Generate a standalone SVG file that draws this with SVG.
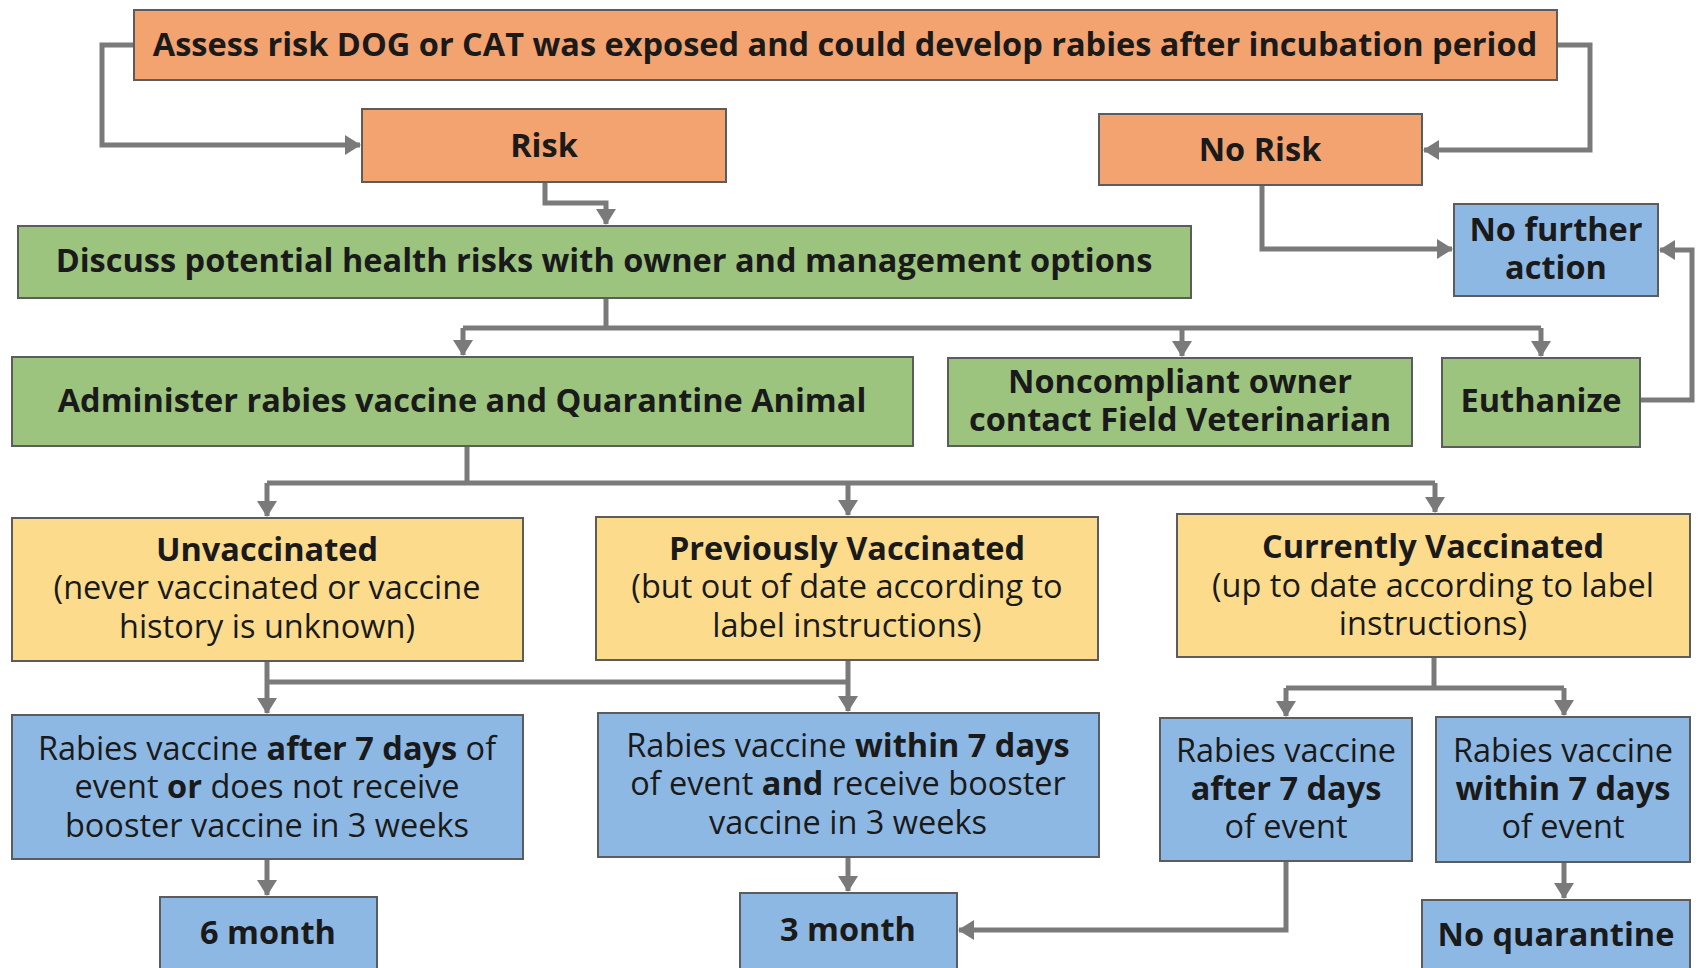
<svg xmlns="http://www.w3.org/2000/svg" width="1700" height="968" viewBox="0 0 1700 968">
<defs>
<marker id="ah" markerUnits="userSpaceOnUse" markerWidth="16" markerHeight="20" refX="15" refY="10" orient="auto">
<path d="M0,0 L16,10 L0,20 Z" fill="#7a7a7a"/>
</marker>
<style>
.box{stroke:#5c5c5c;stroke-width:2}
.o{fill:#f2a36f}
.g{fill:#9cc47f}
.y{fill:#fcdc8c}
.b{fill:#8db8e3}
.c{fill:none;stroke:#7a7a7a;stroke-width:5}
.ca{fill:none;stroke:#7a7a7a;stroke-width:5;marker-end:url(#ah)}
text{font-family:"Open Sans","Noto Sans","DejaVu Sans",sans-serif;fill:#1a1a1a;text-anchor:middle;font-size:32.5px}
.bd{font-weight:700}
</style>
</defs>
<rect width="1700" height="968" fill="#ffffff"/>
<g id="connectors">
<path class="ca" d="M134,45 H102 V145 H360"/>
<path class="ca" d="M1557,45 H1590 V150 H1424"/>
<path class="ca" d="M545,182 V203 H606 V224"/>
<path class="ca" d="M1262,185 V249 H1452"/>
<path class="ca" d="M1640,400 H1692 V250 H1660"/>
<path class="c" d="M606,298 V328 M463,328 H1541"/>
<path class="ca" d="M463,328 V355"/>
<path class="ca" d="M1182,328 V356"/>
<path class="ca" d="M1541,328 V356"/>
<path class="c" d="M467,446 V483 M267,483 H1435"/>
<path class="ca" d="M267,483 V516"/>
<path class="ca" d="M848,483 V515"/>
<path class="ca" d="M1435,483 V512"/>
<path class="c" d="M267,682 H848"/>
<path class="ca" d="M267,661 V713"/>
<path class="ca" d="M848,660 V711"/>
<path class="c" d="M1434,657 V688 M1286,688 H1564"/>
<path class="ca" d="M1286,688 V716"/>
<path class="ca" d="M1564,688 V715"/>
<path class="ca" d="M267,859 V895"/>
<path class="ca" d="M848,857 V891"/>
<path class="ca" d="M1286,861 V930 H959"/>
<path class="ca" d="M1564,862 V898"/>
</g>
<g id="assess"><rect class="box o" x="134" y="10" width="1423" height="70"/><text class="bd" x="845" y="56">Assess risk DOG or CAT was exposed and could develop rabies after incubation period</text></g>
<g id="risk"><rect class="box o" x="362" y="109" width="364" height="73"/><text class="bd" x="544" y="157">Risk</text></g>
<g id="norisk"><rect class="box o" x="1099" y="114" width="323" height="71"/><text class="bd" x="1260" y="161">No Risk</text></g>
<g id="nofurther"><rect class="box b" x="1454" y="204" width="204" height="92"/><text class="bd" x="1556" y="241">No further</text><text class="bd" x="1556" y="279">action</text></g>
<g id="discuss"><rect class="box g" x="18" y="226" width="1173" height="72"/><text class="bd" x="604" y="272">Discuss potential health risks with owner and management options</text></g>
<g id="administer"><rect class="box g" x="12" y="357" width="901" height="89"/><text class="bd" x="462" y="412">Administer rabies vaccine and Quarantine Animal</text></g>
<g id="noncompliant"><rect class="box g" x="948" y="358" width="464" height="88"/><text class="bd" x="1180" y="393">Noncompliant owner</text><text class="bd" x="1180" y="431">contact Field Veterinarian</text></g>
<g id="euthanize"><rect class="box g" x="1442" y="358" width="198" height="89"/><text class="bd" x="1541" y="412">Euthanize</text></g>
<g id="unvaccinated"><rect class="box y" x="12" y="518" width="511" height="143"/><text class="bd" x="267" y="561">Unvaccinated</text><text x="267" y="599">(never vaccinated or vaccine</text><text x="267" y="638">history is unknown)</text></g>
<g id="previously"><rect class="box y" x="596" y="517" width="502" height="143"/><text class="bd" x="847" y="560">Previously Vaccinated</text><text x="847" y="598">(but out of date according to</text><text x="847" y="637">label instructions)</text></g>
<g id="currently"><rect class="box y" x="1177" y="514" width="513" height="143"/><text class="bd" x="1433" y="558">Currently Vaccinated</text><text x="1433" y="597">(up to date according to label</text><text x="1433" y="635">instructions)</text></g>
<g id="after7"><rect class="box b" x="12" y="715" width="511" height="144"/><text x="267" y="760">Rabies vaccine <tspan class="bd">after 7 days</tspan> of</text><text x="267" y="798">event <tspan class="bd">or</tspan> does not receive</text><text x="267" y="837">booster vaccine in 3 weeks</text></g>
<g id="within7"><rect class="box b" x="598" y="713" width="501" height="144"/><text x="848" y="757">Rabies vaccine <tspan class="bd">within 7 days</tspan></text><text x="848" y="795">of event <tspan class="bd">and</tspan> receive booster</text><text x="848" y="834">vaccine in 3 weeks</text></g>
<g id="after7b"><rect class="box b" x="1160" y="718" width="252" height="143"/><text x="1286" y="762">Rabies vaccine</text><text class="bd" x="1286" y="800">after 7 days</text><text x="1286" y="838">of event</text></g>
<g id="within7b"><rect class="box b" x="1436" y="717" width="254" height="145"/><text x="1563" y="762">Rabies vaccine</text><text class="bd" x="1563" y="800">within 7 days</text><text x="1563" y="838">of event</text></g>
<g id="six"><rect class="box b" x="160" y="897" width="217" height="75"/><text class="bd" x="268" y="944">6 month</text></g>
<g id="three"><rect class="box b" x="740" y="893" width="217" height="79"/><text class="bd" x="848" y="941">3 month</text></g>
<g id="noq"><rect class="box b" x="1422" y="900" width="268" height="72"/><text class="bd" x="1556" y="946">No quarantine</text></g>
</svg>
